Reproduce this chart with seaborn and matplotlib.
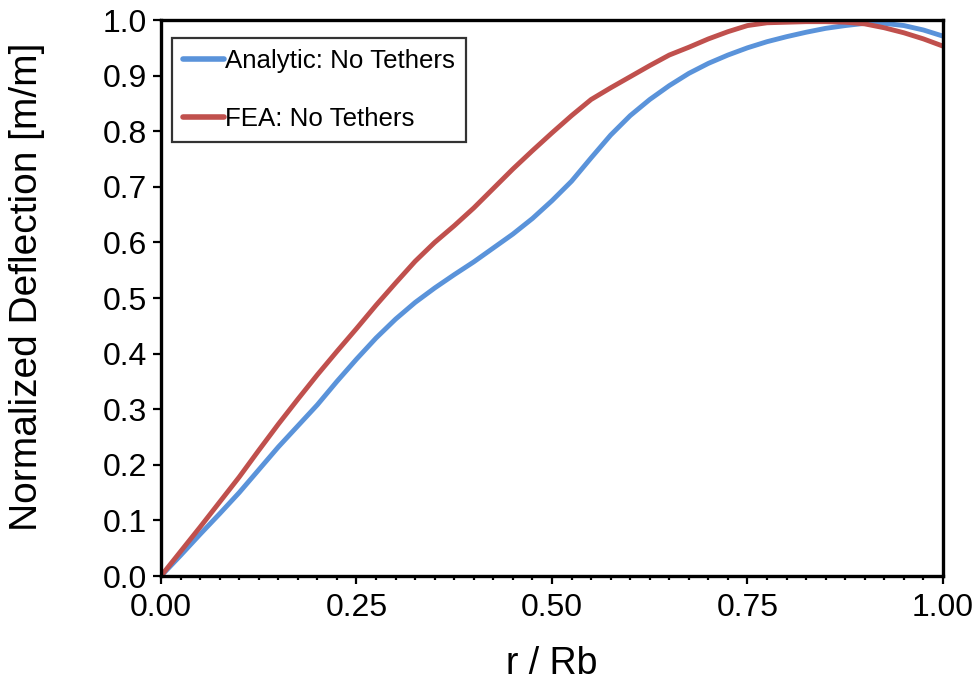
import numpy as np
import pandas as pd
import matplotlib
matplotlib.use("Agg")
import matplotlib.pyplot as plt
import seaborn as sns
from matplotlib.ticker import MultipleLocator, FormatStrFormatter

# ---- data ----
r_grid = [0.000, 0.025, 0.050, 0.075, 0.100, 0.125, 0.150, 0.175, 0.200, 0.225,
          0.250, 0.275, 0.300, 0.325, 0.350, 0.375, 0.400, 0.425, 0.450, 0.475,
          0.500, 0.525, 0.550, 0.575, 0.600, 0.625, 0.650, 0.675, 0.700, 0.725,
          0.750, 0.775, 0.800, 0.825, 0.850, 0.875, 0.900, 0.925, 0.950, 0.975,
          1.000]
analytic = [0.000, 0.037, 0.075, 0.112, 0.150, 0.191, 0.232, 0.270, 0.308, 0.350,
            0.390, 0.428, 0.462, 0.492, 0.518, 0.542, 0.565, 0.590, 0.615, 0.643,
            0.675, 0.710, 0.752, 0.793, 0.828, 0.857, 0.882, 0.904, 0.922, 0.937,
            0.950, 0.961, 0.970, 0.978, 0.985, 0.990, 0.994, 0.994, 0.990, 0.982,
            0.971]
fea = [0.000, 0.044, 0.088, 0.133, 0.178, 0.226, 0.273, 0.318, 0.362, 0.404,
       0.445, 0.487, 0.527, 0.566, 0.600, 0.630, 0.662, 0.697, 0.732, 0.765,
       0.797, 0.828, 0.857, 0.878, 0.898, 0.918, 0.937, 0.951, 0.966, 0.979,
       0.990, 0.995, 0.996, 0.997, 0.997, 0.996, 0.993, 0.986, 0.977, 0.966,
       0.953]
series_names = ["Analytic: No Tethers", "FEA: No Tethers"]
x_ticks = [0.0, 0.25, 0.50, 0.75, 1.00]
y_ticks = [0.0, 0.1, 0.2, 0.3, 0.4, 0.5, 0.6, 0.7, 0.8, 0.9, 1.0]

df = pd.DataFrame({
    "r": r_grid * 2,
    "v": analytic + fea,
    "series": [series_names[0]] * len(r_grid) + [series_names[1]] * len(r_grid),
})

sns.set_style("white")
plt.rcParams["font.family"] = ["Liberation Sans", "DejaVu Sans"]
plt.rcParams["text.color"] = "black"
plt.rcParams["axes.labelcolor"] = "black"
plt.rcParams["xtick.color"] = "black"
plt.rcParams["ytick.color"] = "black"

fig = plt.figure(figsize=(9.79, 6.83), dpi=100)
ax = fig.add_axes([161 / 979, 1 - 576 / 683, (943 - 161) / 979, (576 - 20) / 683])

palette = {series_names[0]: "#5A93DA", series_names[1]: "#C0504D"}
sns.lineplot(data=df, x="r", y="v", hue="series", palette=palette, ax=ax,
             linewidth=3.5, estimator=None, sort=False, legend=True)
for ln in ax.get_lines():
    ln.set_solid_joinstyle("round")

ax.set_xlim(0, 1)
ax.set_ylim(0, 1)
ax.set_xticks(x_ticks)
ax.xaxis.set_minor_locator(MultipleLocator(0.025))
ax.set_yticks(y_ticks)
ax.xaxis.set_major_formatter(FormatStrFormatter("%.2f"))
ax.yaxis.set_major_formatter(FormatStrFormatter("%.1f"))

for s in ax.spines.values():
    s.set_linewidth(2.4)
    s.set_color("black")
    s.set_visible(True)

ax.tick_params(axis="both", which="major", direction="out", length=6, width=1.6,
               color="black", labelsize=23, labelcolor="black", pad=4)
ax.tick_params(axis="x", which="minor", direction="out", length=3, width=1.6, color="black")
ax.tick_params(axis="x", which="major", pad=6)
ax.tick_params(left=True, bottom=True)
ax.tick_params(axis="x", which="minor", bottom=True)

ax.set_xlabel("r / Rb", fontsize=27, color="black")
ax.xaxis.set_label_coords(0.5, -0.125)
ax.set_ylabel("Normalized Deflection [m/m]", fontsize=28, color="black")
ax.yaxis.set_label_coords(-0.148, 0.52)
ax.grid(False)

leg = ax.legend(loc="upper left", bbox_to_anchor=(0.014, 0.968), borderaxespad=0,
                fontsize=18.6, frameon=True, fancybox=False, handlelength=1.6,
                handletextpad=0.05, labelspacing=1.32, borderpad=0.42)
leg.get_frame().set_edgecolor("black")
leg.get_frame().set_linewidth(1.6)
for line in leg.get_lines():
    line.set_linewidth(4)
    line.set_solid_capstyle("round")
for t in leg.get_texts():
    t.set_color("black")

fig.savefig("out.png", dpi=100, facecolor="white")
